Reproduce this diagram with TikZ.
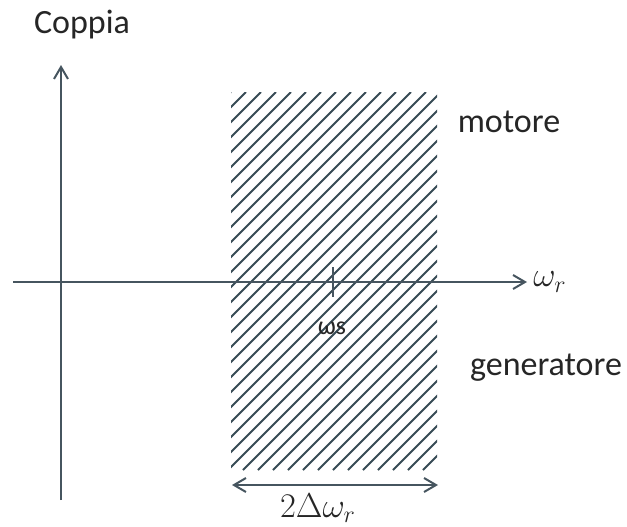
\documentclass[tikz,border=0pt]{standalone}
\usepackage{fontspec}
\setmainfont{Carlito}
\usetikzlibrary{arrows.meta, positioning}
\definecolor{axisgray}{RGB}{70, 85, 95}
\definecolor{hatchgray}{RGB}{55, 75, 85}

\begin{document}
\begin{tikzpicture}[x=0.5pt, y=-0.5pt,
    axis/.style={draw=axisgray, line width=1pt, -{Straight Barb[length=6pt, width=7pt]}},
    lbl/.style={font=\fontsize{17}{20}\selectfont, text=black!85},
    mlbl/.style={font=\fontsize{17}{20}\selectfont, text=black!85, inner sep=1pt}]
  \useasboundingbox (0,0) rectangle (627,526);

  % zona tratteggiata x=[231, 437], y=[92, 470]
  \begin{scope}
    \clip (231,92) rectangle (437,470);
    \foreach \i in {-147,-132,...,437}
      \draw[hatchgray, line width=0.9pt] (\i,470) -- ++(378,-378);
  \end{scope}

  % assi
  \coordinate (ybot) at (61,500);
  \coordinate (ytop) at (61,65);
  \coordinate (xsx) at (13,282);
  \coordinate (xdx) at (527,282);
  \draw[axis] (ybot) -- (ytop);
  \draw[axis] (xsx) -- (xdx);

  % tacca in omega_s
  \coordinate (ttop) at (333,267);
  \coordinate (tbot) at (333,297);
  \draw[axisgray, line width=1pt] (ttop) -- (tbot);

  \node[lbl] (coppia) at (82,25) {Coppia};
  \node[mlbl, right=2pt of xdx] (wr) {$\omega_r$};
  \node[font=\fontsize{13}{15}\selectfont, text=black!85] (ws) at (332,328) {ωs};
  \node[lbl] (motore) at (509,122) {motore};
  \node[lbl] (gen) at (546,368) {generatore};

  % banda 2 Delta omega_r
  \coordinate (dsx) at (232,485);
  \coordinate (ddx) at (438,485);
  \draw[draw=axisgray, line width=1pt, {Straight Barb[length=6pt, width=7pt]}-{Straight Barb[length=6pt, width=7pt]}] (dsx) -- (ddx);
  \node[mlbl] (delta) at (318,508) {$2\Delta\omega_r$};
\end{tikzpicture}
\end{document}
